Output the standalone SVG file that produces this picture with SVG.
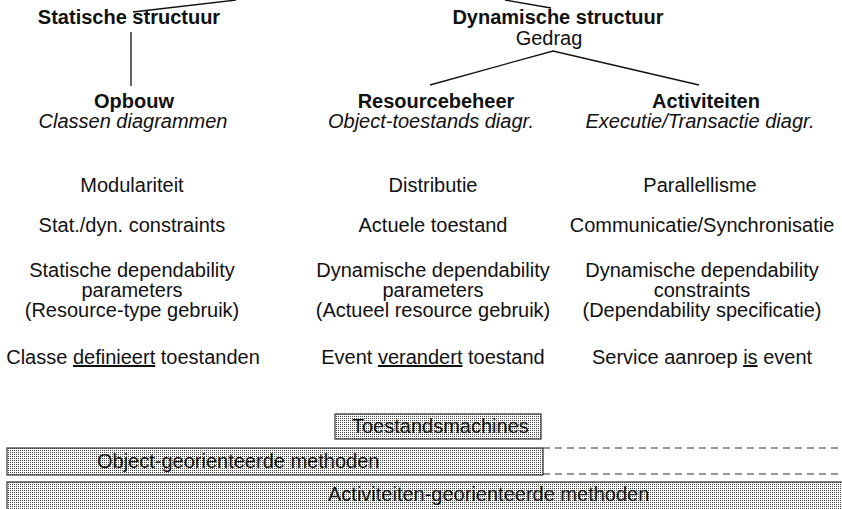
<svg xmlns="http://www.w3.org/2000/svg" width="842" height="509" viewBox="0 0 842 509">
<defs>
<pattern id="dots" width="2" height="2" patternUnits="userSpaceOnUse">
<rect width="2" height="2" fill="#ffffff"/>
<rect width="1" height="1" fill="#444444"/>
</pattern>
</defs>
<style>
text{font-family:"Liberation Sans",Arial,sans-serif;font-size:20px;fill:#111}
.c{text-anchor:middle}
.b{font-weight:bold}
.i{font-style:italic}
.u{text-decoration:underline}
.ln{stroke:#111;stroke-width:1.3;fill:none}
.dash{stroke:#333;stroke-width:1.2;stroke-dasharray:7 5;fill:none}
.bar{fill:url(#dots);stroke:#333;stroke-width:1.2}
</style>
<rect width="842" height="509" fill="#ffffff"/>
<g id="connectors">
<line class="ln" x1="133" y1="12" x2="236" y2="0"/>
<line class="ln" x1="505" y1="0" x2="551" y2="8"/>
<line class="ln" x1="131" y1="32" x2="131" y2="86"/>
<polyline class="ln" points="430,85 553,51 699,85"/>
<line class="dash" x1="543" y1="448" x2="842" y2="448"/>
<line class="dash" x1="543" y1="474" x2="842" y2="474"/>
</g>
<g id="statische-structuur"><text class="c b" x="129" y="24">Statische structuur</text></g>
<g id="dynamische-structuur"><text class="c b" x="558" y="24">Dynamische structuur</text><text class="c" x="549" y="45">Gedrag</text></g>
<g id="opbouw"><text class="c b" x="134" y="108">Opbouw</text><text class="c i" x="133" y="128">Classen diagrammen</text></g>
<g id="resourcebeheer"><text class="c b" x="436" y="108">Resourcebeheer</text><text class="c i" x="431" y="128">Object-toestands diagr.</text></g>
<g id="activiteiten"><text class="c b" x="706" y="108">Activiteiten</text><text class="c i" x="700" y="128">Executie/Transactie diagr.</text></g>
<g id="col-left">
<text class="c" x="132" y="192">Modulariteit</text>
<text class="c" x="132" y="232">Stat./dyn. constraints</text>
<text class="c" x="132" y="277">Statische dependability</text>
<text class="c" x="132" y="297">parameters</text>
<text class="c" x="132" y="317">(Resource-type gebruik)</text>
<text class="c" x="133" y="364">Classe <tspan class="u">definieert</tspan> toestanden</text>
</g>
<g id="col-mid">
<text class="c" x="433" y="192">Distributie</text>
<text class="c" x="433" y="232">Actuele toestand</text>
<text class="c" x="433" y="277">Dynamische dependability</text>
<text class="c" x="433" y="297">parameters</text>
<text class="c" x="433" y="317">(Actueel resource gebruik)</text>
<text class="c" x="433" y="364">Event <tspan class="u">verandert</tspan> toestand</text>
</g>
<g id="col-right">
<text class="c" x="700" y="192">Parallellisme</text>
<text class="c" x="702" y="232">Communicatie/Synchronisatie</text>
<text class="c" x="702" y="277">Dynamische dependability</text>
<text class="c" x="702" y="297">constraints</text>
<text class="c" x="702" y="317">(Dependability specificatie)</text>
<text class="c" x="702" y="364">Service aanroep <tspan class="u">is</tspan> event</text>
</g>
<g id="toestandsmachines"><rect class="bar" x="335" y="414" width="206" height="25"/><text x="352" y="433">Toestandsmachines</text></g>
<g id="object-georienteerde-methoden"><rect class="bar" x="7" y="448" width="536" height="27"/><text x="97" y="468">Object-georienteerde methoden</text></g>
<g id="activiteiten-georienteerde-methoden"><rect class="bar" x="7" y="482" width="840" height="30"/><text x="328" y="501">Activiteiten-georienteerde methoden</text></g>
</svg>
